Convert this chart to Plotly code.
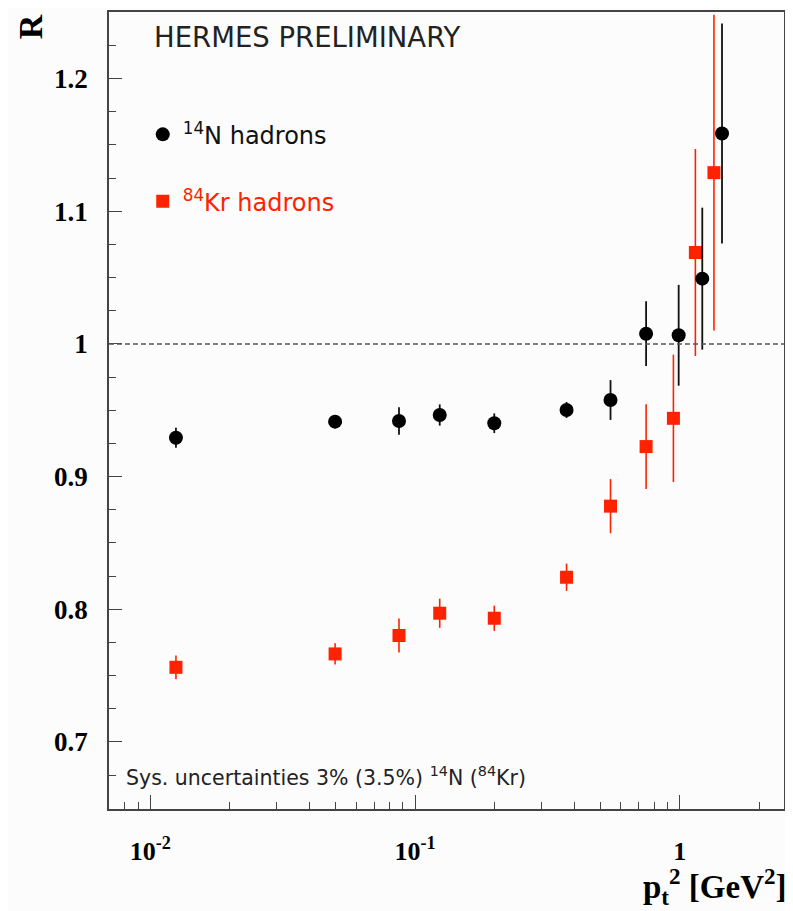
import plotly.graph_objects as go

# ---- data ----
n_x = [0.0125, 0.0499, 0.0870, 0.1240, 0.1993, 0.3737, 0.5478, 0.7465, 0.991, 1.217, 1.445]
n_r = [0.9293, 0.9414, 0.9419, 0.9464, 0.9402, 0.9502, 0.9577, 1.0077, 1.0065, 1.0492, 1.1586]
n_err = [0.0075, 0.005, 0.0103, 0.008, 0.0074, 0.006, 0.015, 0.0244, 0.038, 0.0535, 0.083]

kr_x = [0.0125, 0.0499, 0.0870, 0.1240, 0.1993, 0.3737, 0.5478, 0.7465, 0.9467, 1.146, 1.347]
kr_r = [0.7562, 0.7663, 0.7802, 0.7970, 0.7932, 0.8241, 0.8777, 0.9226, 0.9439, 1.0689, 1.1291]
kr_err = [0.009, 0.008, 0.0128, 0.011, 0.0095, 0.0103, 0.0204, 0.032, 0.048, 0.078, 0.119]

x_tickvals = [0.01, 0.1, 1]
x_ticktext = ["10<sup>-2</sup>", "10<sup>-1</sup>", "1"]

RED = "#ff2200"
SERIF = "Liberation Serif"
SANS = "DejaVu Sans"

fig = go.Figure()

fig.add_trace(go.Scatter(
    x=kr_x, y=kr_r, mode="markers",
    name="<sup>84</sup>Kr hadrons",
    marker=dict(symbol="square", size=13, color=RED),
    error_y=dict(type="data", array=kr_err, color=RED, thickness=1.6, width=0),
    legend="legend2",
))
fig.add_trace(go.Scatter(
    x=n_x, y=n_r, mode="markers",
    name="<sup>14</sup>N hadrons",
    marker=dict(symbol="circle", size=14, color="black"),
    error_y=dict(type="data", array=n_err, color="#111111", thickness=1.8, width=0),
    legend="legend",
))

fig.add_shape(type="line", xref="paper", yref="y", x0=0, x1=1, y0=1, y1=1,
              line=dict(color="#555555", width=1.5, dash="5px,3px"))

axis_line = dict(showline=True, linecolor="#444444", linewidth=1.5, mirror=True,
                 showgrid=False, zeroline=False)

fig.update_xaxes(
    type="log", range=[-2.156, 0.394],
    tickvals=x_tickvals, ticktext=x_ticktext,
    ticks="inside", ticklen=14, tickwidth=1.3, tickcolor="#444444",
    minor=dict(ticks="inside", ticklen=7, tickwidth=1.2, tickcolor="#444444", dtick="D1"),
    tickfont=dict(family=SERIF, size=26, color="black", weight="bold"),
    ticklabelstandoff=18,
    **axis_line,
)
fig.update_yaxes(
    range=[0.6494, 1.2502],
    dtick=0.1, tick0=0.7,
    ticks="inside", ticklen=13, tickwidth=1.3, tickcolor="#444444",
    minor=dict(ticks="inside", ticklen=7, tickwidth=1.2, tickcolor="#444444", dtick=0.025),
    tickfont=dict(family=SERIF, size=27, color="black", weight="bold"),
    ticklabelstandoff=14,
    **axis_line,
)

fig.update_layout(
    width=785, height=903,
    margin=dict(l=101, r=9, t=2, b=102),
    paper_bgcolor="#fcfcfc", plot_bgcolor="#fcfcfc",
    showlegend=True,
    legend=dict(x=0.05, y=0.846, xanchor="left", yanchor="middle",
                bgcolor="rgba(0,0,0,0)", font=dict(family=SANS, size=24, color="#111111"),
                itemwidth=30),
    legend2=dict(x=0.05, y=0.762, xanchor="left", yanchor="middle",
                 bgcolor="rgba(0,0,0,0)", font=dict(family=SANS, size=24, color=RED),
                 itemwidth=30),
    annotations=[
        dict(text="HERMES PRELIMINARY", xref="paper", yref="paper", x=0.0637, y=0.969,
             xanchor="left", yanchor="middle", showarrow=False,
             font=dict(family=SANS, size=27.5, color="#222222")),
        dict(text="Sys. uncertainties 3% (3.5%) <sup>14</sup>N (<sup>84</sup>Kr)",
             xref="paper", yref="paper", x=0.022, y=0.0413,
             xanchor="left", yanchor="middle", showarrow=False,
             font=dict(family=SANS, size=20.5, color="#222222")),
        dict(text="R", xref="paper", yref="paper", x=-0.117, y=0.981, textangle=-90,
             xanchor="center", yanchor="middle", showarrow=False,
             font=dict(family=SERIF, size=34, color="black", weight="bold")),
        dict(text="p<sub>t</sub><sup>2</sup> [GeV<sup>2</sup>]", xref="paper", yref="paper",
             x=1.007, y=-0.097, xanchor="right", yanchor="middle", showarrow=False,
             font=dict(family=SERIF, size=33, color="black", weight="bold")),
    ],
)

fig.write_html("out.html")
